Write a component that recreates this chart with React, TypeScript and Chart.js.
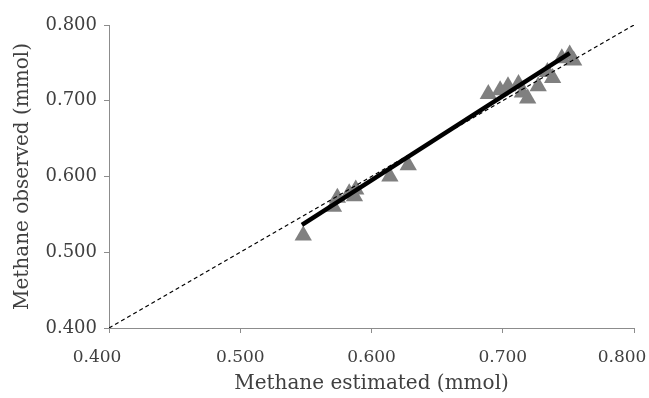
import React, { useEffect, useRef } from "react";
import { Chart, registerables } from "chart.js";

Chart.register(...registerables);

const estimated = [
  0.548, 0.571, 0.574, 0.583, 0.588, 0.587, 0.614, 0.628,
  0.689, 0.698, 0.704, 0.712, 0.715, 0.719, 0.727, 0.734, 0.738, 0.745, 0.751, 0.754,
];
const observed = [
  0.522, 0.560, 0.572, 0.578, 0.583, 0.574, 0.600, 0.615,
  0.709, 0.714, 0.719, 0.722, 0.711, 0.703, 0.719, 0.738, 0.730, 0.756, 0.761, 0.753,
];
const fitX = [0.547, 0.751];
const fitY = [0.536, 0.763];
const identityX = [0.4, 0.8];
const identityY = [0.4, 0.8];
const tickValues = [0.4, 0.5, 0.6, 0.7, 0.8];
const xTitle = "Methane estimated (mmol)";
const yTitle = "Methane observed (mmol)";

const FONT = "'DejaVu Serif', serif";
const TEXT = "#404040";
const AXIS = "#8c8c8c";

export default function App() {
  const ref = useRef<HTMLCanvasElement | null>(null);

  useEffect(() => {
    if (!ref.current) return;
    const xLabels = {
      id: "xLabels",
      afterDraw(chart: any) {
        const sc = chart.scales.x;
        const ctx = chart.ctx;
        ctx.save();
        ctx.font = `17px ${FONT}`;
        ctx.fillStyle = TEXT;
        ctx.textAlign = "center";
        ctx.textBaseline = "alphabetic";
        tickValues.forEach((v, i) => {
          let px = sc.getPixelForValue(v);
          if (i === 0 || i === tickValues.length - 1) px -= 12;
          ctx.fillText(v.toFixed(3), px, chart.chartArea.bottom + 34);
        });
        ctx.restore();
      },
    };
    const chart = new Chart(ref.current, {
      type: "scatter",
      data: {
        datasets: [
          {
            label: "fit",
            data: fitX.map((x, i) => ({ x, y: fitY[i] })),
            showLine: true,
            borderColor: "#000000",
            borderWidth: 4.5,
            pointRadius: 0,
            order: 1,
          },
          {
            label: "1:1",
            data: identityX.map((x, i) => ({ x, y: identityY[i] })),
            showLine: true,
            borderColor: "#000000",
            borderWidth: 1.2,
            borderDash: [4, 3],
            pointRadius: 0,
            order: 2,
          },
          {
            label: "points",
            data: estimated.map((x, i) => ({ x, y: observed[i] })),
            pointStyle: "triangle",
            pointRadius: 10,
            borderWidth: 0,
            backgroundColor: "#808080",
            borderColor: "#808080",
            order: 3,
          },
        ],
      },
      options: {
        responsive: false,
        animation: false,
        layout: { padding: { top: 25, right: 15, left: 0, bottom: 0 } },
        plugins: { legend: { display: false }, tooltip: { enabled: false } },
        scales: {
          x: {
            type: "linear",
            min: 0.4,
            max: 0.8,
            afterFit(s: any) {
              s.height = 70;
            },
            afterBuildTicks(s: any) {
              s.ticks = tickValues.map((v) => ({ value: v }));
            },
            ticks: { display: false },
            grid: { drawOnChartArea: false, color: AXIS, tickLength: 5, lineWidth: 1 },
            border: { color: AXIS, width: 1 },
            title: {
              display: true,
              text: xTitle,
              color: TEXT,
              font: { family: FONT, size: 20 },
              padding: { top: 0, bottom: 2 },
            },
          },
          y: {
            type: "linear",
            min: 0.4,
            max: 0.8,
            afterFit(s: any) {
              s.width = 109;
            },
            afterBuildTicks(s: any) {
              s.ticks = tickValues.map((v) => ({ value: v }));
            },
            ticks: {
              color: TEXT,
              font: { family: FONT, size: 18 },
              padding: 7,
              callback: (v: any) => Number(v).toFixed(3),
            },
            grid: { drawOnChartArea: false, color: AXIS, tickLength: 5, lineWidth: 1 },
            border: { color: AXIS, width: 1 },
            title: {
              display: true,
              text: yTitle,
              color: TEXT,
              font: { family: FONT, size: 20 },
              padding: { top: 11, bottom: 0 },
            },
          },
        },
      },
      plugins: [xLabels],
    });
    return () => chart.destroy();
  }, []);

  return (
    <div style={{ position: "fixed", left: 0, top: 0, width: 649, height: 398, background: "#fff" }}>
      <canvas ref={ref} width={649} height={398} style={{ width: 649, height: 398 }} />
    </div>
  );
}
